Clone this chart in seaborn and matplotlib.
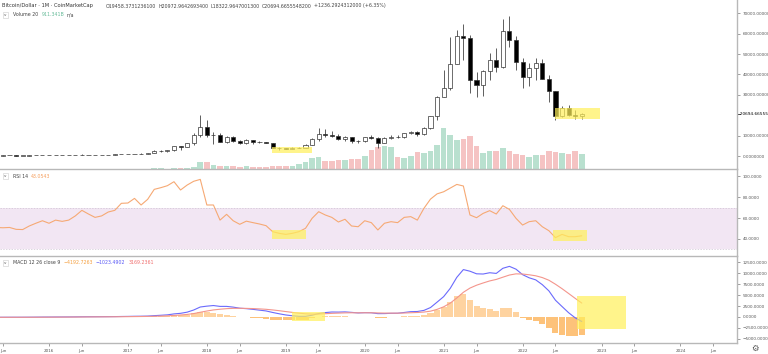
import numpy as np
import pandas as pd
import matplotlib
matplotlib.use('Agg')
import matplotlib.pyplot as plt
import matplotlib.transforms as mtrans
from matplotlib.patches import Rectangle
import seaborn as sns

# meses (mai/2015 .. out/2022), t = meses desde jan/2016
months = pd.period_range('2015-05', '2022-10', freq='M')
t = np.array([(m.year - 2016) * 12 + (m.month - 1) for m in months])

# OHLC mensal (USD)
open_ = [236, 230, 263, 284, 230, 236, 315, 378,
         430, 368, 437, 416, 448, 531, 673, 624, 574, 609, 701, 745,
         964, 970, 1190, 1071, 1348, 2286, 2481, 2875, 4703, 4339, 6468, 10233,
         14157, 10221, 10397, 6973, 9240, 7495, 6404, 7780, 7037, 6625, 6318, 4017,
         3743, 3458, 3854, 4105, 5351, 8574, 10817, 10085, 9631, 8293, 9199, 7569,
         7193, 9351, 8600, 6438, 8658, 9461, 9137, 11323, 11681, 10784, 13781, 19625,
         29001, 33114, 45137, 58918, 57750, 37332, 35040, 41626, 47166, 43791, 61318, 57005,
         46306, 38483, 43193, 45538, 37714, 31792, 19785, 23336, 20050, 19458]
high = [247, 267, 315, 285, 247, 334, 495, 466,
        462, 447, 439, 467, 548, 778, 704, 626, 628, 737, 755, 979,
        1191, 1200, 1290, 1359, 2763, 2999, 2917, 4737, 4976, 6470, 11517, 20089,
        17712, 11958, 11274, 9765, 9964, 7754, 8424, 7780, 7388, 7000, 6553, 4309,
        4110, 4211, 4296, 5642, 9008, 13796, 13130, 12273, 10898, 10021, 9505, 7743,
        9553, 10457, 9168, 9440, 10067, 10199, 11435, 12359, 12067, 14029, 19749, 29244,
        41946, 58330, 61683, 64863, 59519, 41330, 42235, 50482, 52853, 66930, 68789, 59041,
        47881, 45661, 48086, 47313, 39902, 31957, 24572, 25135, 22673, 20973]
low = [228, 221, 256, 199, 225, 236, 299, 350,
       354, 366, 396, 414, 437, 519, 604, 539, 568, 606, 690, 742,
       752, 946, 903, 1060, 1348, 2198, 1843, 2692, 2946, 4172, 5520, 9542,
       9402, 6048, 6676, 6573, 7084, 5827, 6111, 5881, 6141, 6205, 3881, 3157,
       3401, 3400, 3734, 4097, 5332, 7583, 9163, 9421, 7830, 7446, 6617, 6435,
       6914, 8470, 4106, 6202, 8130, 8976, 8977, 10994, 9916, 10416, 13244, 17619,
       28722, 32384, 45116, 47159, 30681, 28893, 29360, 37458, 40936, 43321, 53569, 42001,
       33184, 34459, 37260, 37697, 26350, 17708, 18966, 19600, 18290, 18323]
close = [230, 263, 284, 230, 236, 314, 378, 430,
         368, 437, 416, 448, 531, 673, 624, 574, 609, 701, 745, 964,
         970, 1190, 1071, 1348, 2286, 2481, 2875, 4703, 4339, 6468, 10233, 14157,
         10221, 10397, 6973, 9240, 7495, 6404, 7780, 7037, 6625, 6318, 4017, 3743,
         3458, 3854, 4105, 5351, 8574, 10817, 10085, 9631, 8293, 9199, 7569, 7193,
         9351, 8600, 6438, 8658, 9461, 9137, 11323, 11681, 10784, 13781, 19625, 29001,
         33114, 45137, 58918, 57750, 37332, 35040, 41626, 47166, 43791, 61318, 57005, 46306,
         38483, 43193, 45538, 37714, 31792, 19785, 23336, 20050, 19458, 20695]

# volume mensal (bilhoes USD)
volume = [0.9, 0.7, 1.2, 1.4, 0.8, 1.5, 2.6, 2.0,
          1.6, 1.5, 2.0, 1.3, 2.1, 5.0, 3.0, 2.4, 1.9, 2.3, 2.5, 3.2,
          6, 4, 8, 10, 30, 35, 25, 45, 50, 60, 110, 420,
          440, 230, 190, 200, 190, 140, 150, 130, 120, 110, 160, 170,
          170, 190, 300, 420, 650, 690, 500, 470, 510, 550, 590, 580,
          800, 1150, 1300, 1350, 1300, 700, 650, 800, 1000, 950, 1100, 1450,
          2450, 2050, 1750, 1800, 2000, 1350, 950, 1050, 1100, 1250, 1100, 900,
          850, 700, 850, 850, 1100, 1000, 950, 900, 1050, 911]

# RSI 14
rsi = [51, 50.7, 51, 49.2, 49, 52.4, 55, 57.4,
       55, 58, 56.8, 58, 62, 67.3, 63.8, 60.6, 62, 65.7, 67.3, 74,
       74.3, 78.7, 72.4, 77.8, 87.3, 88.9, 90.8, 94.6, 86.7, 91.4, 95, 96.8,
       72.4, 72.4, 58, 63.5, 57.4, 54, 57, 55.6, 54.3, 52.7, 47, 45.4,
       44.4, 45.4, 47, 50.2, 59.7, 66, 62.9, 60.6, 56.2, 58.8, 52.4, 51.7,
       57.4, 55.6, 48.6, 55, 56.5, 55.6, 60.6, 61.3, 58, 69.2, 78, 83,
       85, 88.5, 92, 90.5, 62.9, 60.3, 64.4, 67, 63.8, 71.7, 68.2, 59.7,
       53.3, 56.5, 57.4, 51.7, 47.9, 41.3, 44.4, 42.2, 42.2, 43.05]

# MACD 12 26 9
macd = [-68, -63, -57, -56, -54, -45, -33, -18,
        -11, -1, 6, 13, 26, 47, 58, 63, 69, 80, 91, 117,
        136, 167, 179, 210, 306, 393, 488, 703, 835, 1097, 1591, 2272,
        2467, 2605, 2410, 2411, 2244, 2001, 1899, 1738, 1558, 1376, 1033, 730,
        463, 280, 153, 152, 405, 778, 1004, 1133, 1115, 1160, 1052, 925,
        986, 964, 763, 774, 838, 852, 1028, 1216, 1250, 1502, 2147, 3376,
        4627, 6511, 9013, 10777, 10408, 9818, 9769, 10061, 9907, 11069, 11510, 10871,
        9623, 8911, 8439, 7349, 5939, 3810, 2382, 974, -189, -1023]
signal = [-70, -69, -66, -64, -62, -59, -54, -46,
          -39, -31, -24, -16, -8, 3, 14, 24, 33, 42, 52, 65,
          79, 97, 113, 133, 167, 212, 268, 355, 451, 580, 782, 1080,
          1358, 1607, 1768, 1896, 1966, 1973, 1958, 1914, 1843, 1750, 1606, 1431,
          1237, 1046, 867, 724, 660, 684, 748, 825, 883, 938, 961, 954,
          960, 961, 921, 892, 881, 875, 906, 968, 1024, 1120, 1325, 1735,
          2313, 3153, 4325, 5615, 6574, 7223, 7732, 8198, 8540, 9046, 9539, 9805,
          9769, 9597, 9365, 8962, 8357, 7448, 6435, 5343, 4237, 3169]
hist = [2, 6, 9, 8, 8, 14, 21, 28,
        28, 30, 30, 29, 34, 44, 44, 39, 36, 38, 39, 52,
        57, 70, 66, 77, 139, 181, 220, 348, 384, 517, 809, 1192,
        1109, 998, 642, 515, 278, 28, -59, -176, -285, -374, -573, -701,
        -774, -766, -714, -572, -255, 94, 256, 308, 232, 222, 91, -29,
        26, 3, -158, -118, -43, -23, 122, 248, 226, 382, 822, 1641,
        2314, 3358, 4688, 5162, 3834, 2595, 2037, 1863, 1367, 2023, 1971, 1066,
        -146, -686, -926, -1613, -2418, -3638, -4053, -4369, -4426, -4193]

# caixas amarelas de destaque: (t0, t1, v0, v1)
boxes_price = [(76.9, 83.7, 18100, 23500), (33.9, 40.0, 1500, 4400)]
boxes_rsi = [(33.9, 39.1, 40, 48.6), (76.7, 81.8, 38.5, 48.6)]
boxes_macd = [(36.9, 41.9, -900, 1200), (80.2, 87.7, -2730, 4770)]

open_, high, low, close = map(np.array, (open_, high, low, close))
volume, hist = np.array(volume), np.array(hist)

sns.set_style('white')
plt.rcParams['font.family'] = ['DejaVu Sans']

W, H = 768, 354
fig = plt.figure(figsize=(W / 100, H / 100), dpi=100)


def pane(top, bottom):
    return [0, 1 - bottom / H, 737 / W, (bottom - top) / H]


ax_p = fig.add_axes(pane(0, 169))
ax_r = fig.add_axes(pane(169, 256), sharex=ax_p)
ax_m = fig.add_axes(pane(256, 343), sharex=ax_p)

# volume (eixo gemeo, por baixo dos candles)
axv = ax_p.twinx()
up = close >= open_
axv.bar(t, volume, width=0.85, color=np.where(up, '#b9e0cf', '#f5c3c3'), linewidth=0)
axv.set_ylim(0, 10100)
axv.set_yticks([])
for s in axv.spines.values():
    s.set_visible(False)
ax_p.set_zorder(axv.get_zorder() + 1)

grey = '#b8b8b8'
lab = '#555555'
for ax in (ax_p, ax_r, ax_m):
    ax.set_facecolor('none')
    for s in ('left', 'top'):
        ax.spines[s].set_visible(False)
    for s in ('right', 'bottom'):
        ax.spines[s].set_color(grey)
        ax.spines[s].set_linewidth(1.0)
    ax.yaxis.tick_right()
    ax.tick_params(axis='y', labelsize=3.0, length=2, width=0.4, pad=2,
                   colors=lab, direction='out')
    ax.tick_params(axis='x', bottom=False, labelbottom=False)

# candles
ax_p.vlines(t, low, high, color='#444444', linewidth=0.6, zorder=2)
body_lo = np.minimum(open_, close)
body_h = np.maximum(np.abs(close - open_), 60)
ax_p.bar(t, body_h, bottom=body_lo, width=0.62,
         color=np.where(up, 'white', 'black'), edgecolor='#333333',
         linewidth=0.5, zorder=3)
ax_p.set_ylim(-6370, 76470)
pt = [0, 10000, 30000, 40000, 50000, 60000, 70000]
ax_p.set_yticks(pt)
ax_p.set_yticklabels([f'{v:.7f}' for v in pt])
tr = mtrans.blended_transform_factory(ax_p.transAxes, ax_p.transData)
ax_p.text(1.0, close[-1], '  20694.6655548', transform=tr, fontsize=3.1,
          color='black', va='center', ha='left', clip_on=False)
ax_p.plot([1.0, 1.004], [close[-1], close[-1]], transform=tr, color='black',
          lw=0.5, clip_on=False)

# RSI
ax_r.axhspan(30, 70, color='#f2e6f3', zorder=0, lw=0)
for lvl in (30, 70):
    ax_r.axhline(lvl, color='#cfc3d3', lw=0.5, ls=(0, (2, 2)), zorder=1)
sns.lineplot(x=t, y=rsi, ax=ax_r, color='#f6a974', linewidth=0.8, legend=False, zorder=3)
ax_r.set_ylim(23.8, 106.7)
ax_r.set_yticks([40, 60, 80, 100])
ax_r.set_yticklabels(['40.0000', '60.0000', '80.0000', '100.0000'])

# MACD
ax_m.bar(t, hist, width=0.92, color=np.where(hist >= 0, '#fed3a0', '#fdc27a'),
         linewidth=0, zorder=1)
sns.lineplot(x=t, y=macd, ax=ax_m, color='#6a6afc', linewidth=0.8, legend=False, zorder=3)
sns.lineplot(x=t, y=signal, ax=ax_m, color='#f4958c', linewidth=0.8, legend=False, zorder=3)
ax_m.set_ylim(-5910, 13865)
mt = [-5000, -2500, 0, 2500, 5000, 7500, 10000, 12500]
ax_m.set_yticks(mt)
ax_m.set_yticklabels([f'{v:.4f}'.replace('-', '\u2212') for v in mt])

# caixas amarelas
for ax, bx in ((ax_p, boxes_price), (ax_r, boxes_rsi), (ax_m, boxes_macd)):
    for t0, t1, v0, v1 in bx:
        ax.add_patch(Rectangle((t0, v0), t1 - t0, v1 - v0, facecolor='#fff05a',
                               alpha=0.7, edgecolor='none', zorder=4))

# eixo x
ticks, labels = [], []
for yr in range(2015, 2025):
    if yr >= 2016:
        ticks.append((yr - 2016) * 12)
        labels.append(str(yr))
    ticks.append((yr - 2016) * 12 + 5)
    labels.append('Jun')
ax_m.set_xticks(ticks)
ax_m.set_xticklabels(labels)
ax_m.tick_params(axis='x', bottom=True, labelbottom=True, labelsize=3.0,
                 length=2, width=0.4, pad=2, colors=lab)
ax_p.set_xlim(-7.45, 104.6)
for ax in (ax_p, ax_r, ax_m):
    ax.set_xlabel('')
    ax.set_ylabel('')

# textos do cabecalho, colocados em sequencia
fig.canvas.draw()
renderer = fig.canvas.get_renderer()


def row(x, y, parts, gap=3, size=3.7):
    for s, c in parts:
        txt = fig.text(x / W, 1 - y / H, s, color=c, fontsize=size, va='center', ha='left')
        x = txt.get_window_extent(renderer).x1 + gap


chev = dict(boxstyle='square,pad=0.25', fc='white', ec='#cccccc', lw=0.4)
for yy in (15, 176, 263):
    fig.text(4 / W, 1 - yy / H, 'v', color=lab, fontsize=3, va='center', ha='left', bbox=chev)

row(2, 6, [('Bitcoin/Dollar \u00b7 1M \u00b7 CoinMarketCap', '#333333')], size=3.7)
row(106, 6, [('O19458.3731236100', '#444444'), ('H20972.9642693400', '#444444'),
             ('L18322.9647001300', '#444444'), ('C20694.6655548200', '#444444'),
             ('+1236.2924312000 (+6.35%)', '#444444')], gap=2, size=3.4)
row(13, 15, [('Volume 20', '#444444'), ('911.341B', '#66bb99'), ('n/a', '#444444')], size=3.4)
row(13, 176, [('RSI 14', '#444444'), ('43.0543', '#f5a060')], size=3.4)
row(13, 263, [('MACD 12 26 close 9', '#444444'), ('\u22124192.7263', '#f5a040'),
              ('\u22121023.4902', '#5a5af5'), ('3169.2361', '#f07070')], size=3.4)
fig.text(755 / W, 1 - 348 / H, '\u2699', fontsize=6, color=lab, ha='center', va='center')

fig.savefig('out.png', dpi=100)
